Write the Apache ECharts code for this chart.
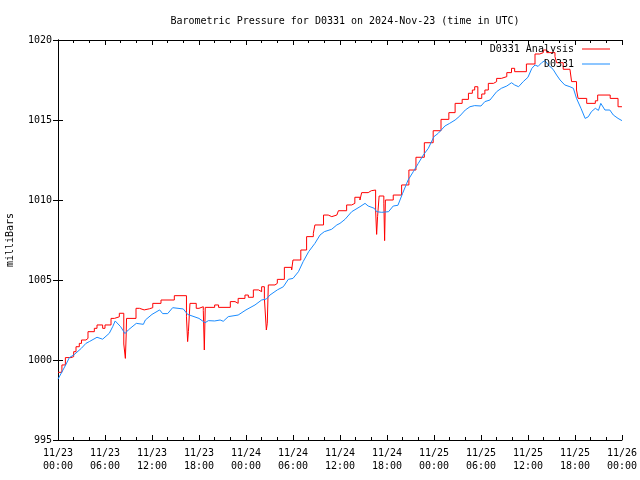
<!DOCTYPE html>
<html>
<head>
<meta charset="utf-8">
<script src="https://cdn.jsdelivr.net/npm/echarts@6/dist/echarts.min.js"></script>
<style>html,body{margin:0;padding:0;background:#fff;}#c{width:640px;height:480px;}</style>
</head>
<body>
<div id="c"></div>
<script>
// Data (time in hours since 2024-11-23 00:00 UTC)
const xTickLabels = ["11/23\n00:00","11/23\n06:00","11/23\n12:00","11/23\n18:00","11/24\n00:00","11/24\n06:00","11/24\n12:00","11/24\n18:00","11/25\n00:00","11/25\n06:00","11/25\n12:00","11/25\n18:00","11/26\n00:00"];
const yTicks = [995, 1000, 1005, 1010, 1015, 1020];

const analysisTimes = [0,0.5,0.94,1.66,2.0,2.3,2.72,3.0,3.57,3.83,4.64,4.98,5.7,6.0,6.77,7.2,7.83,8.4,8.6,8.7,8.75,9.96,10.4,11.0,11.66,12.1,13.15,14.85,16.4,16.55,16.65,16.85,17.65,18.0,18.55,18.68,18.8,20.0,20.5,22.0,22.6,23.0,23.87,24.3,24.94,25.6,26.0,26.35,26.6,26.72,26.85,27.7,28.0,28.9,29.83,30.0,31.0,31.74,32.6,32.8,33.9,34.5,34.95,35.6,35.8,36.85,37.5,37.9,38.55,38.77,39.6,40.0,40.55,40.68,40.8,41.0,41.6,41.7,41.8,42.8,43.87,44.8,45.7,46.77,47.9,48.9,49.9,50.7,51.6,52.4,52.9,53.2,53.6,54.1,54.5,54.94,55.6,56.0,56.6,57.3,57.9,58.3,59.8,60.9,61.5,61.96,62.4,63.45,63.66,64.5,65.36,65.57,66.2,66.4,67.5,68.6,68.9,70.5,71.5,72];
const analysisValues = [999.23,999.69,1000.15,1000.21,1000.52,1000.83,1001.04,1001.25,1001.35,1001.77,1001.98,1002.19,1001.98,1002.19,1002.6,1002.7,1002.92,1001.0,1000.1,1001.5,1002.6,1003.23,1003.13,1003.2,1003.27,1003.54,1003.75,1004.02,1002.7,1001.15,1001.77,1003.54,1003.23,1003.33,1003.1,1000.625,1003.29,1003.44,1003.29,1003.65,1003.54,1003.85,1004.06,1003.92,1004.38,1004.27,1004.58,1003.85,1001.875,1002.3,1004.69,1004.79,1005.04,1005.79,1005.63,1006.25,1006.875,1007.71,1007.92,1008.44,1009.06,1008.96,1009.06,1008.96,1009.33,1009.69,1009.79,1010.17,1010.0,1010.46,1010.58,1010.625,1009.375,1007.85,1008.96,1010.25,1009.8,1007.46,1010.0,1010.31,1010.94,1011.875,1012.67,1013.58,1014.33,1015.04,1015.46,1016.04,1016.29,1016.67,1016.875,1017.08,1016.35,1016.625,1016.875,1017.29,1017.4,1017.6,1017.71,1017.96,1018.23,1018.02,1018.5,1019.125,1019.21,1019.375,1019.21,1018.96,1018.58,1018.17,1018.08,1017.4,1016.875,1016.35,1016.04,1016.2,1016.56,1016.35,1015.83,1015.83];

const stationTimes = [0,0.98,1.45,2.0,2.98,3.57,4.0,4.98,5.7,5.9,6.55,6.98,7.3,8.0,8.55,8.98,10.0,10.9,11.15,12.0,12.98,13.36,14.0,14.64,16.0,16.55,18.0,18.77,19.2,20.0,20.7,21.1,21.74,23.0,24.0,25.15,26.0,26.6,27.06,28.0,28.77,29.4,30.0,30.7,31.3,32.0,32.8,33.45,34.0,34.94,35.6,36.0,36.64,37.5,38.55,39.2,39.6,39.83,40.38,40.68,41.32,42.2,42.8,43.4,44.0,44.7,45.36,46.0,46.64,47.28,48.0,48.55,49.4,50.0,50.7,51.3,52.0,52.6,53.2,54.0,54.5,55.15,56.0,56.6,57.3,57.9,58.3,58.8,59.4,60.0,60.5,60.9,61.3,61.74,62.17,62.6,63.2,63.66,64.1,64.7,65.36,65.8,66.2,66.77,67.3,67.7,68.1,68.6,69.0,69.3,69.83,70.45,70.9,71.5,72.0];
const stationValues = [998.8,999.69,1000.15,1000.31,1000.73,1001.04,1001.15,1001.42,1001.3,1001.19,1001.67,1002.08,1002.44,1002.08,1001.65,1001.88,1002.29,1002.23,1002.5,1002.85,1003.13,1002.9,1002.9,1003.27,1003.19,1002.85,1002.6,1002.33,1002.46,1002.44,1002.5,1002.42,1002.71,1002.81,1003.13,1003.44,1003.75,1003.81,1004.06,1004.38,1004.58,1005.04,1005.1,1005.52,1006.15,1006.77,1007.29,1007.81,1008.02,1008.17,1008.44,1008.54,1008.79,1009.27,1009.58,1009.79,1009.625,1009.75,1009.48,1009.27,1009.23,1009.27,1009.625,1009.67,1010.42,1011.25,1011.77,1012.29,1012.81,1013.23,1013.96,1014.17,1014.625,1014.79,1015.0,1015.25,1015.625,1015.83,1015.9,1015.875,1016.15,1016.25,1016.77,1016.98,1017.125,1017.33,1017.19,1017.08,1017.4,1017.67,1018.23,1018.44,1018.35,1018.58,1018.71,1018.44,1018.17,1017.81,1017.5,1017.19,1017.08,1016.98,1016.35,1015.73,1015.1,1015.2,1015.52,1015.73,1015.6,1016.04,1015.625,1015.625,1015.31,1015.1,1014.96];

const zip = (a, b) => a.map((t, i) => [t, b[i]]);
const FONT = '"DejaVu Sans Mono", "Liberation Mono", monospace';

const chart = echarts.init(document.getElementById('c'), null, {renderer: 'canvas'});
const xCommon = {
  type: 'value', min: 0, max: 72, interval: 6,
  axisLine: {show: true, lineStyle: {color: '#000', width: 1}},
  axisTick: {show: true, inside: true, length: 5, lineStyle: {color: '#000'}},
  minorTick: {show: true, splitNumber: 3, length: 3, lineStyle: {color: '#000'}},
  splitLine: {show: false}
};
const yCommon = {
  type: 'value', min: yTicks[0], max: yTicks[yTicks.length - 1], interval: 5,
  axisLine: {show: true, lineStyle: {color: '#000', width: 1}},
  axisTick: {show: true, inside: true, length: 5, lineStyle: {color: '#000'}},
  splitLine: {show: false}
};
chart.setOption({
  animation: false,
  backgroundColor: '#fff',
  title: {
    text: 'Barometric Pressure for D0331 on 2024-Nov-23 (time in UTC)',
    left: 340, top: 11, textAlign: 'center',
    textStyle: {fontFamily: FONT, fontSize: 10, fontWeight: 'normal', color: '#000'}
  },
  grid: {left: 58, right: 18, top: 40, bottom: 40, containLabel: false},
  legend: [
    {data: ['D0331 Analysis'], right: 25, top: 39, align: 'right', icon: 'rect', itemWidth: 28, itemHeight: 1,
     textStyle: {fontFamily: FONT, fontSize: 10, color: '#000', padding: [0, 3, 0, 0]}, selectedMode: false},
    {data: ['D0331'], right: 25, top: 54, align: 'right', icon: 'rect', itemWidth: 28, itemHeight: 1,
     textStyle: {fontFamily: FONT, fontSize: 10, color: '#000', padding: [0, 3, 0, 0]}, selectedMode: false}
  ],
  xAxis: [
    Object.assign({}, xCommon, {
      position: 'bottom',
      axisLabel: {show: true, margin: 7, fontFamily: FONT, fontSize: 10, lineHeight: 13, color: '#000',
        formatter: v => xTickLabels[Math.round(v / 6)] || ''}
    }),
    Object.assign({}, xCommon, {position: 'top', axisLabel: {show: false}})
  ],
  yAxis: [
    Object.assign({}, yCommon, {
      position: 'left',
      axisLabel: {show: true, margin: 6, fontFamily: FONT, fontSize: 10, color: '#000',
        formatter: v => String(v)}
    }),
    Object.assign({}, yCommon, {position: 'right', axisLabel: {show: false}})
  ],
  graphic: [{
    type: 'text', x: 10, y: 240, rotation: Math.PI / 2,
    style: {text: 'milliBars', fontFamily: FONT, fontSize: 10, fill: '#000', textAlign: 'center', textVerticalAlign: 'middle'}
  }],
  series: [
    {name: 'D0331 Analysis', type: 'line', step: 'end', data: zip(analysisTimes, analysisValues),
     showSymbol: false, symbol: 'none', color: '#ff0000', lineStyle: {width: 1, color: '#ff0000'}, xAxisIndex: 0, yAxisIndex: 0},
    {name: 'D0331', type: 'line', data: zip(stationTimes, stationValues),
     showSymbol: false, symbol: 'none', color: '#1a8cff', lineStyle: {width: 1, color: '#1a8cff'}, xAxisIndex: 0, yAxisIndex: 0}
  ]
});
</script>
</body>
</html>
